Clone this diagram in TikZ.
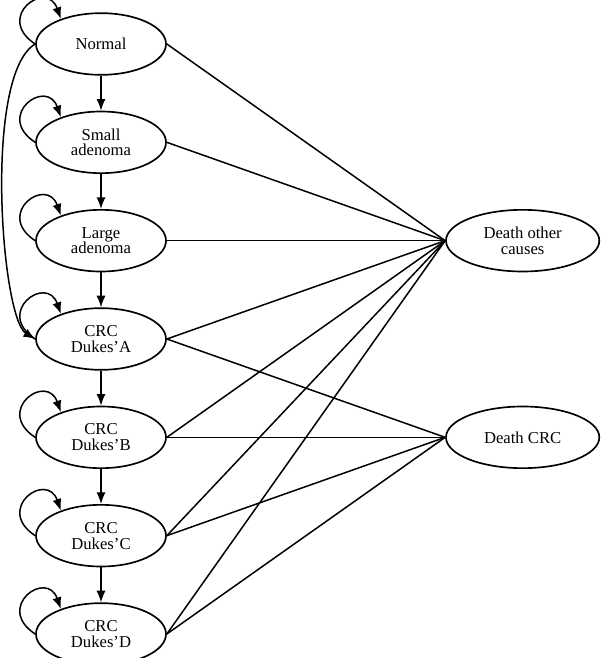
\documentclass[tikz,border=0pt]{standalone}
\usepackage{fontspec}
\setmainfont{Liberation Serif}
\usepackage{tikz}
\usetikzlibrary{arrows.meta,positioning,shapes.geometric}

\begin{document}
\begin{tikzpicture}[
  x=0.6pt, y=0.6pt,
  font=\fontsize{10}{9.5}\selectfont,
  node distance=21pt,
  state/.style={draw, ellipse, align=center, minimum width=78pt, minimum height=37pt, inner sep=0pt, line width=1pt},
  death/.style={state, minimum width=92pt, minimum height=37pt},
  arrow/.style={->, >={Latex[length=7pt,width=5.5pt]}, line width=0.9pt},
  link/.style={line width=0.9pt},
]
\useasboundingbox (0,0) rectangle (600,-658);

\node[state] (normal) at (101,-44) {Normal};
\node[state, below=of normal] (small) {Small\\adenoma};
\node[state, below=of small] (large) {Large\\adenoma};
\node[state, below=of large] (crca) {CRC\\Dukes'A};
\node[state, below=of crca] (crcb) {CRC\\Dukes'B};
\node[state, below=of crcb] (crcc) {CRC\\Dukes'C};
\node[state, below=of crcc] (crcd) {CRC\\Dukes'D};

\node[death, right=167pt of large] (dother) {Death other\\causes};
\node[death, right=167pt of crcb] (dcrc) {Death CRC};

% progression
\draw[arrow] (normal) -- (small);
\draw[arrow] (small) -- (large);
\draw[arrow] (large) -- (crca);
\draw[arrow] (crca) -- (crcb);
\draw[arrow] (crcb) -- (crcc);
\draw[arrow] (crcc) -- (crcd);
\draw[arrow] (normal.west) .. controls +(-52,-31) and +(-34,21) .. (crca.west);

% staying in the same state
\foreach \n in {normal,small,large,crca,crcb,crcc,crcd}
  \draw[arrow] (\n.west) .. controls +(-41,27) and +(-14,40) .. (\n.148);

% deaths
\foreach \n in {normal,small,large,crca,crcb,crcc,crcd}
  \draw[link] (\n.east) -- (dother.west);
\foreach \n in {crca,crcb,crcc,crcd}
  \draw[link] (\n.east) -- (dcrc.west);

\end{tikzpicture}
\end{document}
